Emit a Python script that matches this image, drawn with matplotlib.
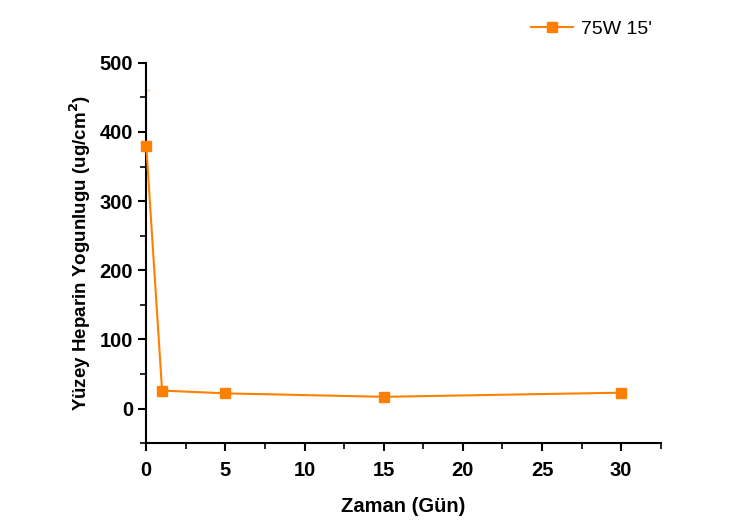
import matplotlib.pyplot as plt
from matplotlib.ticker import MultipleLocator

plt.rcParams['font.family'] = ['Liberation Sans', 'DejaVu Sans']

gun = [0, 1, 5, 15, 30]
yogunluk = [380, 26, 22, 17, 23]
hata = [80, 0, 0, 0, 0]

fig = plt.figure(figsize=(7.5, 5.32), dpi=100)
ax = fig.add_axes([0.195, 0.167, 0.686, 0.715])

ax.errorbar(gun, yogunluk, yerr=[[0]*5, hata], fmt='none', ecolor='#ffcc99',
            elinewidth=1, capsize=3, zorder=1)
line, = ax.plot(gun, yogunluk, color='#ff8000', marker='s', markersize=7,
                linewidth=1.5, label="75W 15'", zorder=3, clip_on=False)

ax.set_xlim(0, 32.5)
ax.set_ylim(-50, 500)
ax.xaxis.set_major_locator(MultipleLocator(5))
ax.xaxis.set_minor_locator(MultipleLocator(2.5))
ax.yaxis.set_major_locator(MultipleLocator(100))
ax.yaxis.set_minor_locator(MultipleLocator(50))

for s in ['top', 'right']:
    ax.spines[s].set_visible(False)
for s in ['left', 'bottom']:
    ax.spines[s].set_linewidth(1.5)

ax.tick_params(which='major', direction='out', length=6, width=1.5, labelsize=14.5)
ax.tick_params(axis='x', which='major', pad=7)
ax.tick_params(which='minor', direction='out', length=4, width=1.2)
for lb in ax.get_xticklabels() + ax.get_yticklabels():
    lb.set_fontweight('bold')

ax.set_xlabel('Zaman (Gün)', fontsize=14.5, fontweight='bold', labelpad=12)
ax.set_ylabel('Yüzey Heparin Yogunlugu (ug/cm$^\\mathbf{2}$)', fontsize=13.5,
              fontweight='bold', labelpad=5)

fig.legend(handles=[line], loc='upper left', bbox_to_anchor=(0.684, 0.995),
           frameon=False, fontsize=14, handlelength=2.2, handletextpad=0.4)

fig.savefig('out.png', dpi=100)
